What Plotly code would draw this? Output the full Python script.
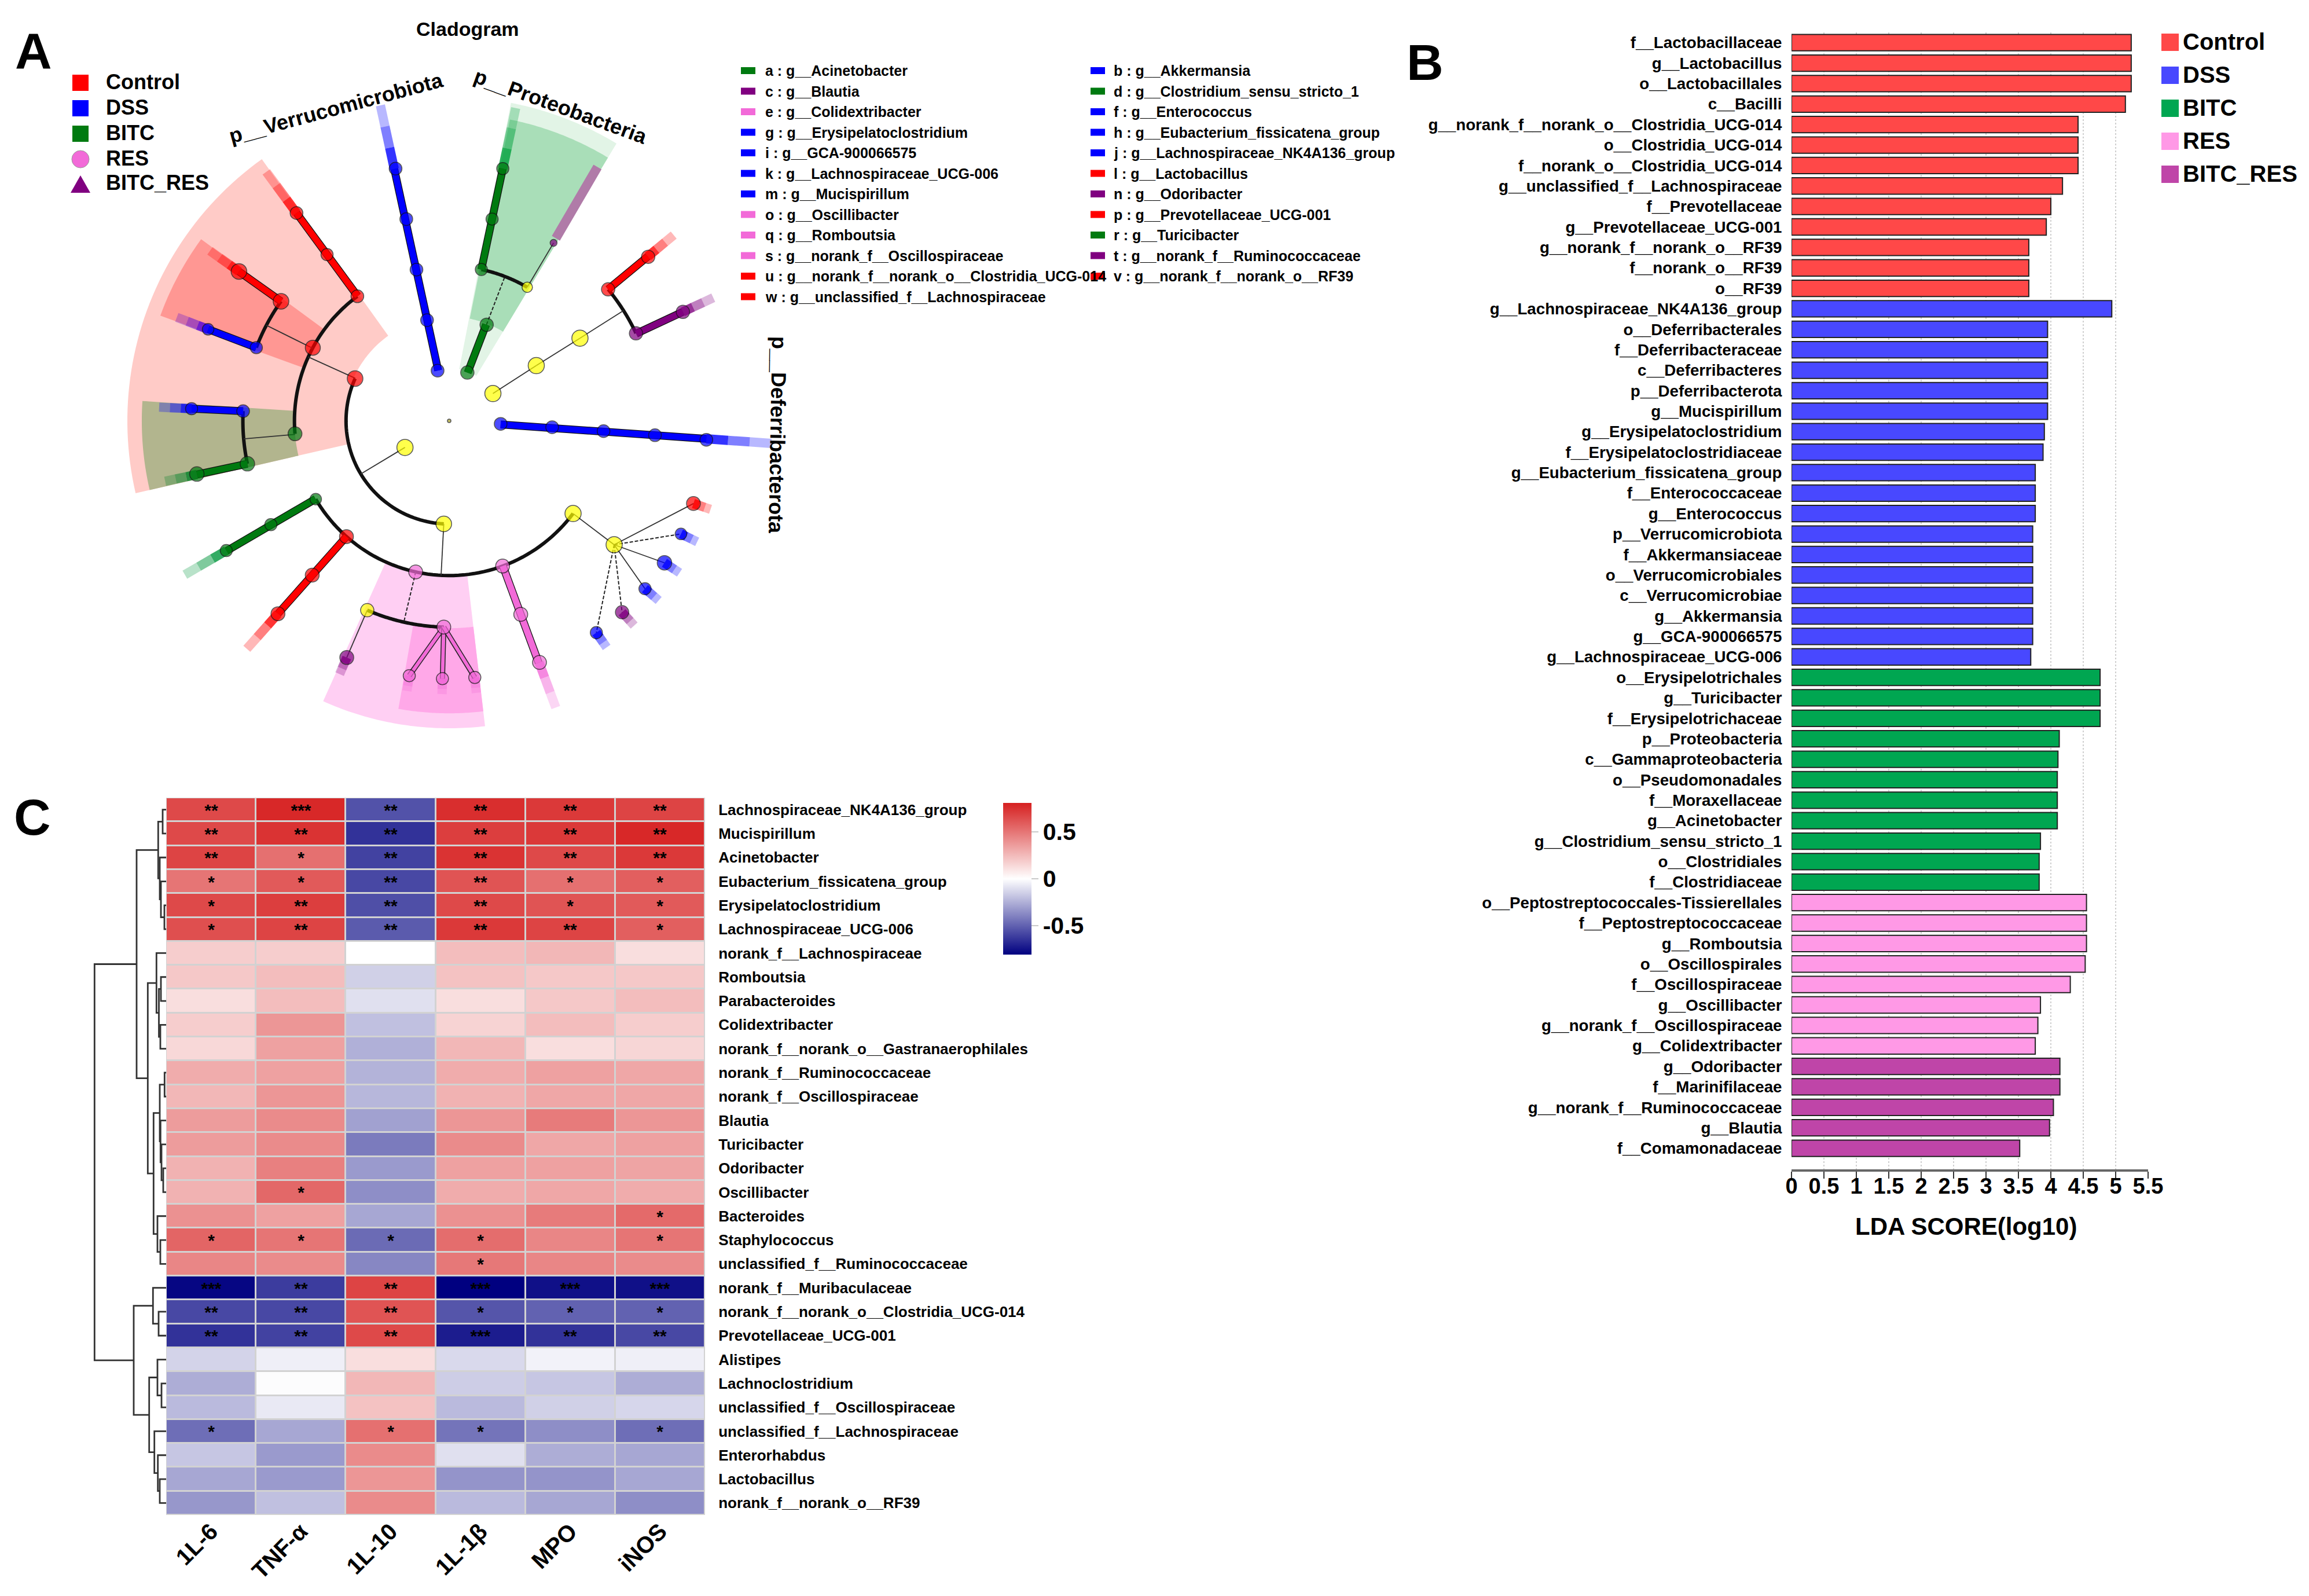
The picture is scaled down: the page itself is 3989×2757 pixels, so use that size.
import numpy as np
import plotly.graph_objects as go

W, H = 3989, 2757
FONT = "Liberation Sans"

# ---------- Panel B data ----------
control_labels = ["f__Lactobacillaceae", "g__Lactobacillus", "o__Lactobacillales", "c__Bacilli",
                  "g__norank_f__norank_o__Clostridia_UCG-014", "o__Clostridia_UCG-014", "f__norank_o__Clostridia_UCG-014",
                  "g__unclassified_f__Lachnospiraceae", "f__Prevotellaceae", "g__Prevotellaceae_UCG-001",
                  "g__norank_f__norank_o__RF39", "f__norank_o__RF39", "o__RF39"]
control_scores = [5.24, 5.24, 5.24, 5.15, 4.42, 4.42, 4.42, 4.18, 4.0, 3.93, 3.66, 3.66, 3.66]
dss_labels = ["g__Lachnospiraceae_NK4A136_group", "o__Deferribacterales", "f__Deferribacteraceae", "c__Deferribacteres",
              "p__Deferribacterota", "g__Mucispirillum", "g__Erysipelatoclostridium", "f__Erysipelatoclostridiaceae",
              "g__Eubacterium_fissicatena_group", "f__Enterococcaceae", "g__Enterococcus", "p__Verrucomicrobiota",
              "f__Akkermansiaceae", "o__Verrucomicrobiales", "c__Verrucomicrobiae", "g__Akkermansia", "g__GCA-900066575",
              "g__Lachnospiraceae_UCG-006"]
dss_scores = [4.94, 3.95, 3.95, 3.95, 3.95, 3.95, 3.90, 3.88, 3.76, 3.76, 3.76, 3.72, 3.72, 3.72, 3.72, 3.72, 3.72, 3.69]
bitc_labels = ["o__Erysipelotrichales", "g__Turicibacter", "f__Erysipelotrichaceae", "p__Proteobacteria",
               "c__Gammaproteobacteria", "o__Pseudomonadales", "f__Moraxellaceae", "g__Acinetobacter",
               "g__Clostridium_sensu_stricto_1", "o__Clostridiales", "f__Clostridiaceae"]
bitc_scores = [4.76, 4.76, 4.76, 4.13, 4.11, 4.10, 4.10, 4.10, 3.84, 3.82, 3.82]
res_labels = ["o__Peptostreptococcales-Tissierellales", "f__Peptostreptococcaceae", "g__Romboutsia", "o__Oscillospirales",
              "f__Oscillospiraceae", "g__Oscillibacter", "g__norank_f__Oscillospiraceae", "g__Colidextribacter"]
res_scores = [4.55, 4.55, 4.55, 4.53, 4.30, 3.84, 3.80, 3.76]
bitcres_labels = ["g__Odoribacter", "f__Marinifilaceae", "g__norank_f__Ruminococcaceae", "g__Blautia", "f__Comamonadaceae"]
bitcres_scores = [4.14, 4.14, 4.04, 3.98, 3.52]
lda_groups = ["Control", "DSS", "BITC", "RES", "BITC_RES"]
lda_colors = ["#FF4848", "#4848FF", "#00A651", "#FF99E6", "#BF45A8"]
lda_ticks = [0, 0.5, 1, 1.5, 2, 2.5, 3, 3.5, 4, 4.5, 5, 5.5]

# ---------- Panel C data ----------
heat_cols = ["1L-6", "TNF-α", "1L-10", "1L-1β", "MPO", "iNOS"]
heat_rows = ["Lachnospiraceae_NK4A136_group", "Mucispirillum", "Acinetobacter", "Eubacterium_fissicatena_group",
             "Erysipelatoclostridium", "Lachnospiraceae_UCG-006", "norank_f__Lachnospiraceae", "Romboutsia",
             "Parabacteroides", "Colidextribacter", "norank_f__norank_o__Gastranaerophilales", "norank_f__Ruminococcaceae",
             "norank_f__Oscillospiraceae", "Blautia", "Turicibacter", "Odoribacter", "Oscillibacter", "Bacteroides",
             "Staphylococcus", "unclassified_f__Ruminococcaceae", "norank_f__Muribaculaceae",
             "norank_f__norank_o__Clostridia_UCG-014", "Prevotellaceae_UCG-001", "Alistipes", "Lachnoclostridium",
             "unclassified_f__Oscillospiraceae", "unclassified_f__Lachnospiraceae", "Enterorhabdus", "Lactobacillus",
             "norank_f__norank_o__RF39"]
heat_values = [
    [.66, .78, -.55, .76, .72, .68], [.66, .74, -.65, .70, .72, .78], [.68, .52, -.60, .74, .66, .72],
    [.50, .60, -.58, .62, .52, .58], [.66, .70, -.56, .66, .62, .60], [.64, .68, -.52, .72, .68, .58],
    [.18, .18, 0.0, .24, .26, .12], [.20, .24, -.15, .22, .20, .20], [.12, .24, -.10, .12, .20, .24],
    [.18, .38, -.20, .16, .24, .18], [.14, .34, -.25, .26, .12, .15], [.30, .34, -.24, .30, .34, .32],
    [.26, .38, -.23, .28, .32, .32], [.36, .42, -.30, .38, .48, .38], [.36, .42, -.42, .42, .32, .34],
    [.28, .46, -.32, .34, .34, .33], [.28, .55, -.36, .30, .32, .30], [.40, .34, -.28, .40, .48, .54],
    [.56, .50, -.47, .53, .44, .50], [.44, .42, -.38, .49, .44, .42], [-.79, -.62, .68, -.81, -.76, -.76],
    [-.58, -.58, .62, -.54, -.50, -.50], [-.65, -.60, .66, -.72, -.65, -.58], [-.14, -.05, .12, -.12, -.04, -.05],
    [-.26, -.01, .26, -.16, -.18, -.26], [-.22, -.07, .22, -.22, -.15, -.13], [-.46, -.28, .52, -.44, -.36, -.46],
    [-.18, -.32, .42, -.10, -.26, -.28], [-.28, -.32, .38, -.34, -.34, -.28], [-.33, -.20, .42, -.22, -.28, -.36]]
heat_stars = [
    ["**", "***", "**", "**", "**", "**"], ["**", "**", "**", "**", "**", "**"], ["**", "*", "**", "**", "**", "**"],
    ["*", "*", "**", "**", "*", "*"], ["*", "**", "**", "**", "*", "*"], ["*", "**", "**", "**", "**", "*"],
    [""] * 6, [""] * 6, [""] * 6, [""] * 6, [""] * 6, [""] * 6, [""] * 6, [""] * 6, [""] * 6, [""] * 6,
    ["", "*", "", "", "", ""], ["", "", "", "", "", "*"], ["*", "*", "*", "*", "", "*"], ["", "", "", "*", "", ""],
    ["***", "**", "**", "***", "***", "***"], ["**", "**", "**", "*", "*", "*"], ["**", "**", "**", "***", "**", "**"],
    [""] * 6, [""] * 6, [""] * 6, ["*", "", "*", "*", "", "*"], [""] * 6, [""] * 6, [""] * 6]
heat_colorbar_ticks = [-0.5, 0, 0.5]
# row dendrogram: merge i creates node 30+i from two children at a height
merge_left = [0, 4, 3, 2, 30, 7, 9, 35, 6, 11, 15, 14, 13, 39, 18, 17, 43, 38, 34, 21, 20, 24, 23, 28, 27, 26, 52, 50, 48]
merge_right = [1, 5, 31, 32, 33, 8, 10, 36, 37, 12, 16, 40, 41, 42, 19, 44, 45, 46, 47, 22, 49, 25, 51, 29, 53, 54, 55, 56, 57]
merge_height = [6, 3, 9, 11, 13.7, 9, 10, 12.5, 16.7, 2.7, 5, 8, 9.7, 11, 10, 15, 21.7, 31.7, 51, 13, 22.7, 8, 15, 11, 14.3, 20.3, 29.3, 56, 123.7]

# ---------- Panel A data ----------
RED, BLUE, GREEN, PINK, PURPLE, YELLOW = "#ff0000", "#0000ff", "#007a10", "#f26ad8", "#800080", "#ffff00"
node_theta = [0, -3.3, -3.5, -3.8, -4, -4.2, 103, 102.4, 102.2, 102, 102, 69.4, 68.7, 78, 78, 78, 59.7, 59.6,
              32, 32.4, 32.3, 39.6, 25.1, 39.5, 25,
              211, 155.8, 267,
              126.4, 151.8, 184.8, 210.4, 228.4, 257.5, 290.2, 323.2,
              126.3, 144.6, 159.2, 177.3, 192, 210.2, 228.4, 246.6, 268.5, 290.3, 323.1,
              126.3, 144.6, 159.2, 177.3, 191.9, 210.2, 228.4, 246.6, 261.1, 268.5, 275.7, 290.5,
              341.3, 334, 326.6, 319.4, 312.1, 304.8]
node_level = [0, 1, 2, 3, 4, 5, 1, 2, 3, 4, 5, 1, 2, 3, 4, 5, 3, 4,
              1, 2, 3, 4, 4, 5, 5,
              1, 2, 2,
              3, 3, 3, 3, 3, 3, 3, 3,
              4, 4, 4, 4, 4, 4, 4, 4, 4, 4, 4,
              5, 5, 5, 5, 5, 5, 5, 5, 5, 5, 5, 5,
              5, 5, 5, 5, 5, 5]
node_color = ["#a8a020", BLUE, BLUE, BLUE, BLUE, BLUE, BLUE, BLUE, BLUE, BLUE, BLUE, GREEN, GREEN, GREEN, GREEN, GREEN, YELLOW, PURPLE,
              YELLOW, YELLOW, YELLOW, RED, PURPLE, RED, PURPLE,
              YELLOW, RED, YELLOW,
              RED, RED, GREEN, GREEN, RED, PINK, PINK, YELLOW,
              RED, RED, BLUE, BLUE, GREEN, GREEN, RED, YELLOW, PINK, PINK, YELLOW,
              RED, RED, BLUE, BLUE, GREEN, GREEN, RED, PURPLE, PINK, PINK, PINK, PINK,
              RED, BLUE, BLUE, BLUE, PURPLE, BLUE]
node_size = [6, 22, 22, 22, 22, 22, 22, 22, 22, 22, 22, 23, 23, 21, 21, 21, 18, 12,
             28, 28, 28, 23, 23, 23, 23,
             28, 27, 27,
             22, 26, 24, 20, 24, 24, 24, 28,
             21, 27, 21, 22, 25, 21, 24, 23, 24, 24, 28,
             22, 27, 20, 21, 25, 21, 24, 24, 21, 21, 21, 24,
             24, 20, 25, 21, 23, 21]
# thick coloured lineages: angle, from level, to level, colour
lin_theta = [-4, 102.3, 69, 78, 39.6, 25, 126.3, 144.6, 159.2, 177.3, 192, 210.3, 228.4, 290.3]
lin_from = [1, 1, 1, 3, 4, 4, 3, 4, 4, 4, 4, 3, 3, 3]
lin_to = [5, 5, 2, 5, 5, 5, 5, 5, 5, 5, 5, 5, 5, 5]
lin_color = [BLUE, BLUE, GREEN, GREEN, RED, PURPLE, RED, RED, BLUE, BLUE, GREEN, GREEN, RED, PINK]
# outward fading bars of the terminal clades
fade_theta = [-4, 102.3, 78, 39.6, 25, 126.3, 144.6, 159.2, 177.3, 192, 210.2, 228.4, 290.4, 246.6, 261.1, 268.5, 275.7, 341.3, 334, 326.6, 319.4, 312.1, 304.8]
fade_end = [6.26, 6.26, 6.2, 5.65, 5.65, 5.99, 5.69, 5.65, 5.63, 5.63, 5.93, 5.91, 5.93, 5.35, 5.3, 5.3, 5.3, 5.35, 5.35, 5.35, 5.35, 5.35, 5.35]
fade_rgb = ["0,0,255", "0,0,255", "0,160,60", "255,0,0", "128,0,128", "255,0,0", "255,0,0", "80,0,220", "0,0,255", "0,130,40", "0,150,60", "255,0,0", "242,106,216",
            "128,0,128", "242,106,216", "242,106,216", "242,106,216", "255,0,0", "0,0,255", "0,0,255", "0,0,255", "128,0,128", "0,0,255"]
# black connecting arcs: level, start angle, end angle
arc_level = [2, 3, 4, 4, 3, 4, 3, 4]
arc_start = [155.8, 126.4, 144.6, 177.3, 210.4, 246.6, 59.7, 25.1]
arc_end = [267, 184.8, 159.2, 192, 323.2, 268.5, 78, 39.6]
# thin connecting lines
thin_t1 = [211, 155.6, 152, 185, 267, 59.7, 32, 32.4, 32.3, 246.6, 323.2, 323.1, 323.1, 323.1]
thin_l1 = [1, 2, 3, 3, 2, 3, 1, 2, 3, 4, 3, 4, 4, 4]
thin_t2 = [211, 155.6, 152.4, 185, 267, 59.6, 32.4, 32.3, 32.3, 246.6, 323.1, 341.3, 326.6, 319.4]
thin_l2 = [2, 3, 4, 4, 3, 4, 2, 3, 4, 5, 4, 5, 5, 5]
dash_t1 = [257.5, 68.8, 323.1, 323.1, 323.1]
dash_l1 = [3, 2, 4, 4, 4]
dash_t2 = [257.3, 68.9, 334, 312.1, 304.8]
dash_l2 = [4, 3, 5, 5, 5]
fan_t2 = [261.1, 268.5, 275.7]
# shaded clade sectors
sec_t1 = [58.9, 58.9, 125.6, 143.8, 176.3, 245.8, 260]
sec_t2 = [79, 78.6, 193, 160, 193, 276.7, 276.7]
sec_l1 = [1.02, 2.02, 2.03, 3.0, 3.0, 3.03, 4.02]
sec_l2 = [6.28, 5.96, 6.24, 5.96, 5.96, 5.96, 5.67]
sec_color = ["#e2f4e6", "#a9deb8", "#ffcbc7", "#ff9793", "#b2b58e", "#ffcff3", "#ffa8e8"]
purple_bar = dict(theta=59.7, start=4.1, end=5.7, color="#b07ba8")

clade_keys = ["a", "c", "e", "g", "i", "k", "m", "o", "q", "s", "u", "w",
              "b", "d", "f", "h", "j", "l", "n", "p", "r", "t", "v"]
clade_names = ["g__Acinetobacter", "g__Blautia", "g__Colidextribacter", "g__Erysipelatoclostridium", "g__GCA-900066575",
               "g__Lachnospiraceae_UCG-006", "g__Mucispirillum", "g__Oscillibacter", "g__Romboutsia",
               "g__norank_f__Oscillospiraceae", "g__norank_f__norank_o__Clostridia_UCG-014", "g__unclassified_f__Lachnospiraceae",
               "g__Akkermansia", "g__Clostridium_sensu_stricto_1", "g__Enterococcus", "g__Eubacterium_fissicatena_group",
               "g__Lachnospiraceae_NK4A136_group", "g__Lactobacillus", "g__Odoribacter", "g__Prevotellaceae_UCG-001",
               "g__Turicibacter", "g__norank_f__Ruminococcaceae", "g__norank_f__norank_o__RF39"]
clade_colors = [GREEN, PURPLE, PINK, BLUE, BLUE, BLUE, BLUE, PINK, PINK, PINK, RED, RED,
                BLUE, GREEN, BLUE, BLUE, BLUE, RED, PURPLE, RED, GREEN, PURPLE, RED]
cladogram_groups = ["Control", "DSS", "BITC", "RES", "BITC_RES"]
cladogram_group_colors = [RED, BLUE, GREEN, PINK, PURPLE]
phylum_labels = ["p__Verrucomicrobiota", "p__Proteobacteria", "p__Deferribacterota"]


# ---------- layout helpers ----------
def fx(p):
    return p / W


def fy(p):
    return 1 - p / H


annotations, shapes = [], []


def note(x, y, text, size, bold=True, anchor="left", angle=0, color="#000"):
    annotations.append(dict(x=fx(x), y=fy(y), xref="paper", yref="paper", text=text, showarrow=False,
                            xanchor=anchor, yanchor="middle", textangle=angle,
                            font=dict(family=FONT, size=size, color=color, weight="bold" if bold else "normal")))


def box(x0, y0, x1, y1, color, layer="above", kind="rect", line=None):
    shapes.append(dict(type=kind, xref="paper", yref="paper", x0=fx(x0), x1=fx(x1), y0=fy(y0), y1=fy(y1),
                       fillcolor=color, layer=layer, line=dict(width=0) if line is None else line))


fig = go.Figure()

# ---------- Panel A: cladogram ----------
CX, CY, PR, LEVEL_R = 776, 727, 600, 89.1


def polar(r, theta, **kw):
    fig.add_trace(go.Scatterpolar(r=r, theta=theta, subplot="polar", showlegend=False, hoverinfo="skip", **kw))


for t1, t2, l1, l2, c in zip(sec_t1, sec_t2, sec_l1, sec_l2, sec_color):
    th = np.linspace(t1, t2, 50)
    rr = np.r_[np.full(50, l1), np.full(50, l2), l1] * LEVEL_R
    polar(rr, np.r_[th, th[::-1], t1], mode="lines", fill="toself", fillcolor=c, line=dict(width=0, color=c))

polar([purple_bar["start"] * LEVEL_R, purple_bar["end"] * LEVEL_R], [purple_bar["theta"]] * 2, mode="lines",
      line=dict(color=purple_bar["color"], width=16))

for t, e, c in zip(fade_theta, fade_end, fade_rgb):
    steps = np.linspace(5, e, 4)
    for i, alpha in enumerate([0.8, 0.5, 0.28]):
        polar([steps[i] * LEVEL_R, steps[i + 1] * LEVEL_R], [t, t], mode="lines",
              line=dict(color=f"rgba({c},{alpha})", width=16))

for l, a, b in zip(arc_level, arc_start, arc_end):
    th = np.linspace(a, b, 60)
    polar(np.full(60, l * LEVEL_R), th, mode="lines", line=dict(color="#111", width=6))

polar(sum(([a * LEVEL_R, b * LEVEL_R, None] for a, b in zip(thin_l1, thin_l2)), []),
      sum(([a, b, None] for a, b in zip(thin_t1, thin_t2)), []), mode="lines", line=dict(color="#333", width=1.8))
polar(sum(([a * LEVEL_R, b * LEVEL_R, None] for a, b in zip(dash_l1, dash_l2)), []),
      sum(([a, b, None] for a, b in zip(dash_t1, dash_t2)), []), mode="lines", line=dict(color="#222", width=2, dash="6px,3px"))

for t2 in fan_t2:
    polar([4 * LEVEL_R, 5 * LEVEL_R], [268.5, t2], mode="lines", line=dict(color="#222", width=9))
    polar([4 * LEVEL_R, 5 * LEVEL_R], [268.5, t2], mode="lines", line=dict(color=PINK, width=6))
for t, a, b, c in zip(lin_theta, lin_from, lin_to, lin_color):
    polar([a * LEVEL_R, b * LEVEL_R], [t, t], mode="lines", line=dict(color="#111", width=13.5))
    polar([a * LEVEL_R, b * LEVEL_R], [t, t], mode="lines", line=dict(color=c, width=11))

polar([l * LEVEL_R for l in node_level], node_theta, mode="markers",
      marker=dict(color=node_color, size=node_size, line=dict(color="#111", width=1.5)))

# ---------- Panel B: LDA bars ----------
lda_labels, lda_scores, lda_fill = [], [], []
for labels, scores, col in zip([control_labels, dss_labels, bitc_labels, res_labels, bitcres_labels],
                               [control_scores, dss_scores, bitc_scores, res_scores, bitcres_scores], lda_colors):
    lda_labels += labels
    lda_scores += scores
    lda_fill += [col] * len(labels)
positions = list(range(len(lda_labels)))
fig.add_trace(go.Bar(x=lda_scores, y=positions, orientation="h", width=0.8, showlegend=False, hoverinfo="skip",
                     marker=dict(color=lda_fill, line=dict(color="#222", width=2)), xaxis="x", yaxis="y"))

# ---------- Panel C: heatmap + dendrogram ----------
fig.add_trace(go.Heatmap(z=heat_values, x=list(range(6)), y=list(range(30)), text=heat_stars, texttemplate="%{text}",
                         textfont=dict(family=FONT, size=30, color="#000", weight="bold"),
                         zmin=-0.81, zmax=0.81, xgap=3, ygap=3, hoverinfo="skip", xaxis="x2", yaxis="y2",
                         colorscale=[[0, "#000080"], [0.5, "#ffffff"], [1, "#d62020"]],
                         colorbar=dict(x=fx(1733), xanchor="left", y=fy(1387), yanchor="top", xpad=0, ypad=0,
                                       len=262, lenmode="pixels", thickness=49, thicknessmode="pixels",
                                       outlinewidth=0, ticks="outside", ticklen=12, tickwidth=2, tickcolor="rgba(150,150,150,0.5)",
                                       tickvals=heat_colorbar_ticks, ticktext=["-0.5", "0", "0.5"],
                                       tickfont=dict(family=FONT, size=41, color="#000", weight="bold"))))

node_y = {i: float(i) for i in range(30)}
node_h = {i: 0.0 for i in range(30)}
dx, dy = [], []
for i, (a, b, h) in enumerate(zip(merge_left, merge_right, merge_height)):
    dx += [node_h[a], h, h, node_h[b], None]
    dy += [node_y[a], node_y[a], node_y[b], node_y[b], None]
    node_y[30 + i] = (node_y[a] + node_y[b]) / 2
    node_h[30 + i] = h
fig.add_trace(go.Scatter(x=dx, y=dy, mode="lines", line=dict(color="#333", width=2.8), showlegend=False,
                         hoverinfo="skip", xaxis="x3", yaxis="y2"))

box(287, 1378, 1218, 2617, "#d2d2d2", layer="below")

# ---------- Text and legends ----------
note(808, 50, "Cladogram", 34, anchor="center")
note(58, 87, "A", 88, anchor="center")
note(2462, 107, "B", 88, anchor="center")
note(56, 1411, "C", 88, anchor="center")

for i, (g, c) in enumerate(zip(cladogram_groups, cladogram_group_colors)):
    y = [143, 187, 231, 275, 318][i]
    if i < 3:
        box(125, y - 14, 153, y + 14, c)
    elif i == 3:
        box(124, y - 15, 154, y + 15, c, kind="circle", line=dict(color="#999", width=1))
    else:
        shapes.append(dict(type="path", xref="paper", yref="paper",
                           path=f"M {fx(139)} {fy(y - 15)} L {fx(122)} {fy(y + 15)} L {fx(156)} {fy(y + 15)} Z",
                           fillcolor=c, line=dict(width=0)))
    note(181, y - 2, g, 36)

note(580, 186, phylum_labels[0], 36, anchor="center", angle=-15)
note(968, 184, phylum_labels[1], 36, anchor="center", angle=20)
note(1344, 751, phylum_labels[2], 36, anchor="center", angle=91)

for i, (k, n, c) in enumerate(zip(clade_keys, clade_names, clade_colors)):
    col = 0 if i < 12 else 1
    row = i if i < 12 else i - 12
    y = 122 + row * 35.5
    sx, tx = (1280, 1320) if col == 0 else (1884, 1922)
    box(sx, y - 6, sx + 25, y + 6, c)
    note(tx, y, f"{k} : {n}", 25)

for g, c, y in zip(lda_groups, lda_colors, [73, 130, 187, 244, 301]):
    box(3734, y - 15, 3764, y + 15, c)
    note(3769, y - 1, g, 40)
note(3396, 2118, "LDA SCORE(log10)", 42, anchor="center")

# ---------- Layout ----------
bold = lambda s: dict(family=FONT, size=s, color="#000", weight="bold")
layout_axes = dict(
    polar=dict(domain=dict(x=[fx(CX - PR), fx(CX + PR)], y=[fy(CY + PR), fy(CY - PR)]), bgcolor="rgba(0,0,0,0)",
               radialaxis=dict(visible=False, range=[0, PR]), angularaxis=dict(visible=False)),
    xaxis=dict(domain=[fx(3095), fx(3711)], range=[0, 5.5], anchor="y", tickvals=lda_ticks, tickfont=bold(38),
               showline=True, linecolor="#666", linewidth=4, ticks="outside", ticklen=12, tickwidth=2, tickcolor="#333",
               ticklabelstandoff=-20,
               showgrid=True, gridcolor="#cfcfcf", griddash="dot", gridwidth=2, zeroline=False),
    yaxis=dict(domain=[fy(2020), fy(56)], range=[55.03, -0.5], anchor="x", tickmode="array", tickvals=positions,
               ticktext=lda_labels, tickfont=bold(27.7), ticks="outside", ticklen=10, tickcolor="rgba(0,0,0,0)",
               showgrid=False, zeroline=False, showline=False),
    xaxis2=dict(domain=[fx(287), fx(1218)], range=[-0.5, 5.5], anchor="y2", tickmode="array", tickvals=list(range(6)),
                ticktext=heat_cols, tickangle=-45, tickfont=bold(40), ticks="", ticklabelstandoff=-4,
                showgrid=False, zeroline=False, showline=False),
    yaxis2=dict(domain=[fy(2617), fy(1378)], range=[29.5, -0.5], anchor="x2", side="right", tickmode="array",
                tickvals=list(range(30)), ticktext=heat_rows, tickfont=bold(26), ticks="outside", ticklen=17,
                tickcolor="rgba(0,0,0,0)", showgrid=False, zeroline=False, showline=False),
    xaxis3=dict(domain=[fx(157), fx(287)], range=[130, 0], anchor="y2", visible=False),
)
fig.update_layout(width=W, height=H, margin=dict(l=0, r=0, t=0, b=0, pad=0, autoexpand=False), paper_bgcolor="#fff",
                  plot_bgcolor="rgba(0,0,0,0)", font=dict(family=FONT), annotations=annotations, shapes=shapes,
                  showlegend=False, **layout_axes)
fig.write_html("out.html", post_script="document.body.style.margin='0';", config={"displayModeBar": False})
